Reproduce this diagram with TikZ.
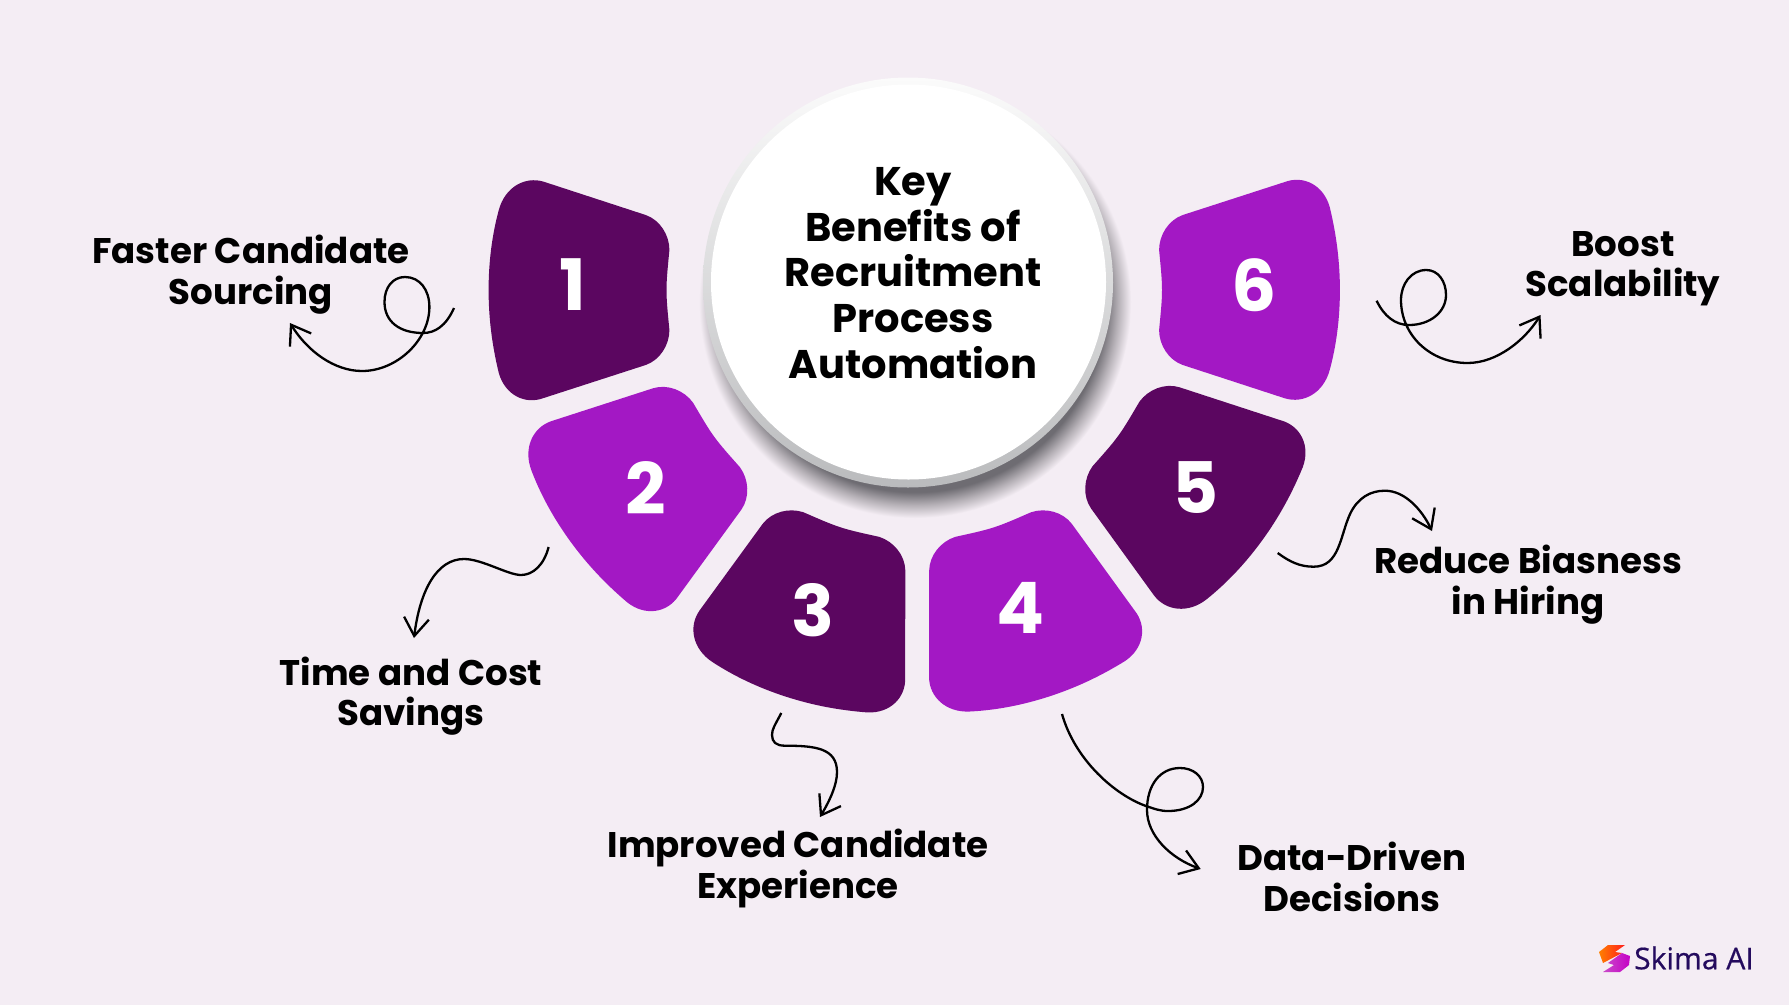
\documentclass[tikz,border=0pt]{standalone}
\usepackage{fontspec}
\setmainfont{Poppins}
\newfontfamily\logofont[FakeBold=0.5]{Open Sans}
\usetikzlibrary{arrows.meta,shadings}

\definecolor{pagebg}{HTML}{F4EDF4}
\definecolor{petaldark}{HTML}{5B0660}
\definecolor{petallight}{HTML}{A318C4}
\definecolor{rimlight}{HTML}{FBFBFB}
\definecolor{rimdark}{HTML}{BABBBD}
\definecolor{glowgray}{HTML}{6E6C72}
\definecolor{glowmid}{HTML}{B5B0B6}
\definecolor{logoink}{HTML}{240B5E}

\pgfdeclareradialshading{discglow}{\pgfpoint{0bp}{0bp}}{color(0bp)=(glowgray); color(22bp)=(glowgray); color(23.5bp)=(glowmid); color(25bp)=(pagebg); color(50bp)=(pagebg)}

\tikzset{
	petal/.style={insert path={
		(543.7,181.7) -- (645.7,215)
		.. controls (660,220) and (669.4,235) .. (669.4,250)
		.. controls (668,265) and (666.5,278) .. (666.5,290)
		.. controls (666.5,302) and (668,315) .. (669.4,330)
		.. controls (669.4,345) and (660,360) .. (645.7,365)
		-- (543.7,398)
		.. controls (525,405) and (505,395) .. (498.8,373)
		.. controls (492,345) and (488.6,318) .. (488.6,290)
		.. controls (488.6,262) and (492,235) .. (498.8,210)
		.. controls (505,187) and (525,176) .. (543.7,181.7) -- cycle}},
	petalnum/.style={text=white,font=\fontsize{71}{71}\selectfont\bfseries},
	benefit/.style={align=center,text=black,font=\fontsize{35.6}{40.5}\selectfont\bfseries},
	curl/.style={draw=black,line width=2.3pt,->,>={Straight Barb[length=18pt,width=25pt]}}
}

\begin{document}
\begin{tikzpicture}[x=1pt,y=-1pt]
	\useasboundingbox (0,0) rectangle (1789,1005);
	\fill[pagebg] (0,0) rectangle (1789,1005);

	% disc and its shadow
	\shade[shading=discglow] (915,302) circle (216);
	\shade[top color=rimlight,bottom color=rimdark] (908,282.5) circle (205);
	\fill[white] (908.5,282) circle (197.5);

	% six petals round the disc
	\foreach \i/\c/\dx/\dy in {0/petaldark/0/0,1/petallight/0/0,2/petaldark/1.5/0,3/petallight/1/0,4/petaldark/0.5/-1,5/petallight/-3.5/0}
		\fill[\c,shift={(\dx,\dy)},rotate around={36*\i:(916,290)},petal];

	\node[petalnum] (n1) at (573,285) {1};
	\node[petalnum] (n2) at (646,488) {2};
	\node[petalnum] (n3) at (813,610) {3};
	\node[petalnum] (n4) at (1021,608) {4};
	\node[petalnum] (n5) at (1196,488) {5};
	\node[petalnum] (n6) at (1254,285) {6};

	\node[benefit,font=\fontsize{40}{45.7}\selectfont\bfseries] (key) at (913,273) {Key\\Benefits of\\Recruitment\\Process\\Automation};

	\node[benefit] (b1) at (251,274.5) {Faster Candidate\\Sourcing};
	\node[benefit] (b2) at (411,696) {Time and Cost\\Savings};
	\node[benefit] (b3) at (798,868.5) {Improved Candidate\\Experience};
	\node[benefit] (b4) at (1352,877) {Data-Driven\\Decisions};
	\node[benefit] (b5) at (1528,584.5) {Reduce Biasness\\in Hiring};
	\node[benefit] (b6) at (1623,268.5) {Boost\\Scalability};

	% free ends of the curls
	\coordinate (s1) at (454,308);    \coordinate (t1) at (290,323);
	\coordinate (s2) at (548.6,547);  \coordinate (t2) at (414,638);
	\coordinate (s3) at (781.3,713);  \coordinate (t3) at (820,817);
	\coordinate (s4) at (1062,714);   \coordinate (t4) at (1200.7,869);
	\coordinate (s5) at (1277.7,553); \coordinate (t5) at (1432,531);
	\coordinate (s6) at (1376.6,300.7); \coordinate (t6) at (1540.5,315);

	\draw[curl] (s1) .. controls (446,326) and (435,333) .. (423,333)
		.. controls (400,333) and (384.5,322) .. (384.5,302)
		.. controls (384.5,287) and (393,277) .. (405,277)
		.. controls (420,277) and (429.4,290) .. (429.4,307)
		.. controls (429.4,340) and (397,371) .. (362,371)
		.. controls (335,371) and (308,352) .. (t1);
	\draw[curl] (s2) .. controls (544,565) and (533,575) .. (521,575)
		.. controls (508,575) and (482,559) .. (464,559)
		.. controls (437,559) and (420,590) .. (t2);
	\draw[curl] (s3) .. controls (775,725) and (772,729) .. (772,735)
		.. controls (772,742) and (776,745.7) .. (785,745.7)
		.. controls (815,745.7) and (837,748) .. (837,772)
		.. controls (837,785) and (830,800) .. (t3);
	\draw[curl] (s4) .. controls (1075,760) and (1115,795) .. (1146,806)
		.. controls (1155,809) and (1160,811) .. (1168,811)
		.. controls (1190,811) and (1203,800) .. (1203,787)
		.. controls (1203,776) and (1193,768) .. (1180,768)
		.. controls (1160,768) and (1147,785) .. (1147,810)
		.. controls (1147,835) and (1170,858) .. (t4);
	\draw[curl] (s5) .. controls (1290,562) and (1300,566.7) .. (1313.7,566.7)
		.. controls (1340,566.7) and (1340,535) .. (1350.5,513)
		.. controls (1358,498) and (1370,490.7) .. (1385,490.7)
		.. controls (1405,490.7) and (1422,510) .. (t5);
	\draw[curl] (s6) .. controls (1384,316) and (1395,325) .. (1409,325)
		.. controls (1430,325) and (1446,312) .. (1446,295)
		.. controls (1446,281) and (1438,270) .. (1426.4,270)
		.. controls (1411,270) and (1401,284) .. (1401,300)
		.. controls (1401,335) and (1430,363) .. (1467.6,363)
		.. controls (1497,363) and (1525,340) .. (t6);

	% logo
	\shade[left color=orange,right color=red!85!pink] (1599,952) -- (1608,945) -- (1625,945) -- (1615,952) -- (1622,953) -- (1603,963) -- cycle;
	\shade[left color=violet!60!magenta!70,right color=magenta!55!violet] (1622,953) -- (1630,956) -- (1629,965) -- (1620,972) -- (1603,972) -- (1614,965) -- (1608,963) -- cycle;
	\node[text=logoink,font=\fontsize{30}{30}\selectfont\logofont,anchor=west,inner sep=0pt] (logo) at (1634,958) {Skima AI};
\end{tikzpicture}
\end{document}
